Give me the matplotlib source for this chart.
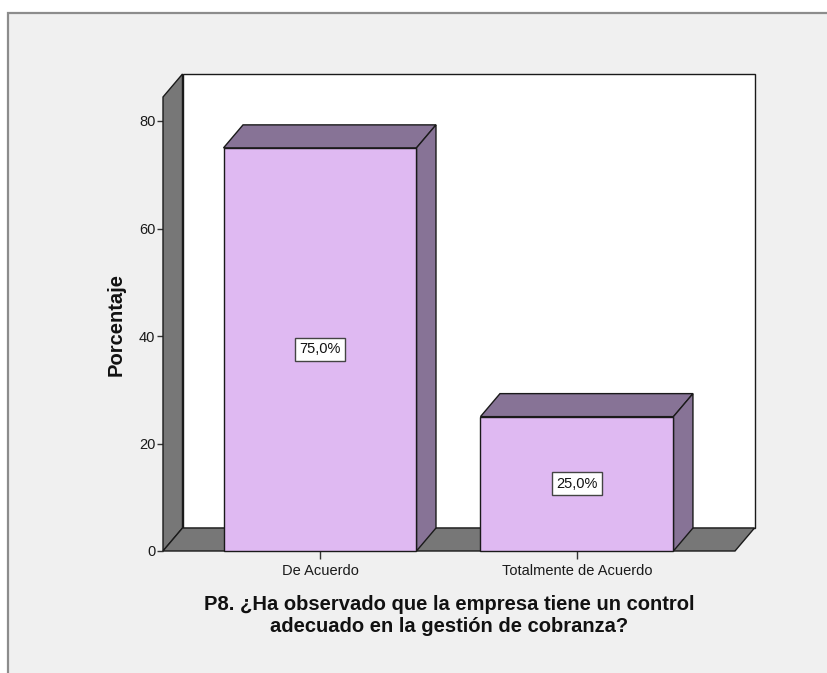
import numpy as np
import matplotlib
matplotlib.use("Agg")
import matplotlib.pyplot as plt
from matplotlib.patches import Polygon, Rectangle

plt.rcParams['font.family'] = ['Liberation Sans', 'DejaVu Sans']

# data
categories = ['De Acuerdo', 'Totalmente de Acuerdo']
percentages = [75.0, 25.0]
y_ticks = [0, 20, 40, 60, 80]
x_title = 'P8. ¿Ha observado que la empresa tiene un control\nadecuado en la gestión de cobranza?'
y_title = 'Porcentaje'

W, H = 827, 673
fig = plt.figure(figsize=(W / 100, H / 100), dpi=100)
fig.patch.set_facecolor('white')

# outer gray panel with frame line (top and left visible)
fig.patches.append(Rectangle((8 / W, -0.05), 1.1, (H - 13) / H + 0.05,
                             transform=fig.transFigure, facecolor='#f0f0f0',
                             edgecolor='#8c8c8c', lw=1.6, zorder=-10))

# front plane of the 3d box, in pixels
left_px, right_px, bottom_px, top_px = 163, 735, 551, 97
ax = fig.add_axes([left_px / W, (H - bottom_px) / H,
                   (right_px - left_px) / W, (bottom_px - top_px) / H])
ax.set_facecolor('none')
x0, x1 = -0.611, 1.615
y0, y1 = 0, (bottom_px - top_px) / 5.375
ax.set_xlim(x0, x1)
ax.set_ylim(y0, y1)

# depth offset in data units
ddx = 19.5 * (x1 - x0) / (right_px - left_px)
ddy = 23.0 * (y1 - y0) / (bottom_px - top_px)

wall = '#777777'
edge = '#1a1a1a'

def poly(pts, fc, z):
    ax.add_patch(Polygon(pts, closed=True, facecolor=fc, edgecolor=edge,
                         lw=1.0, clip_on=False, zorder=z, joinstyle='miter'))

# back wall
poly([(x0 + ddx, ddy), (x1 + ddx, ddy), (x1 + ddx, y1 + ddy), (x0 + ddx, y1 + ddy)], 'white', 1)
# left wall
poly([(x0, y0), (x0, y1), (x0 + ddx, y1 + ddy), (x0 + ddx, ddy)], wall, 2)
# floor
poly([(x0, y0), (x1, y0), (x1 + ddx, ddy), (x0 + ddx, ddy)], wall, 2)

bar_w = 193 / 257
front = '#dfb9f2'
shade = '#877396'
x = np.arange(len(categories))
bars = ax.bar(x, percentages, width=bar_w, color=front, edgecolor=edge, lw=1.0,
              zorder=5, clip_on=False)
for xi, v in zip(x, percentages):
    l, r = xi - bar_w / 2, xi + bar_w / 2
    poly([(l, v), (r, v), (r + ddx, v + ddy), (l + ddx, v + ddy)], shade, 4)
    poly([(r, 0), (r + ddx, ddy), (r + ddx, v + ddy), (r, v)], shade, 4)
    ax.text(xi, v / 2, f'{v:.1f}%'.replace('.', ','), ha='center', va='center',
            fontsize=10.5, color='#111111', zorder=7,
            bbox=dict(boxstyle='square,pad=0.3', facecolor='white',
                      edgecolor='#444444', lw=1.0))

for s in ['top', 'right', 'bottom', 'left']:
    ax.spines[s].set_visible(False)

ax.set_yticks(y_ticks)
ax.set_xticks(x)
ax.set_xticklabels(categories)
ax.tick_params(axis='y', direction='out', length=4.5, width=1.0, color='#333333',
               labelsize=10.5, labelcolor='#1a1a1a', pad=1)
ax.tick_params(axis='x', direction='out', length=5.5, width=1.0, color='#333333',
               labelsize=10.5, labelcolor='#1a1a1a', pad=4)

ax.set_ylabel(y_title, fontsize=14.5, fontweight='bold', color='#111111')
ax.yaxis.set_label_coords((126 - left_px) / (right_px - left_px), 0.5)
ax.set_xlabel(x_title, fontsize=14.5, fontweight='bold', color='#111111',
              linespacing=1.2)
ax.xaxis.set_label_coords(0.5, (bottom_px - 595) / (bottom_px - top_px))

fig.savefig('out.png', dpi=100)
